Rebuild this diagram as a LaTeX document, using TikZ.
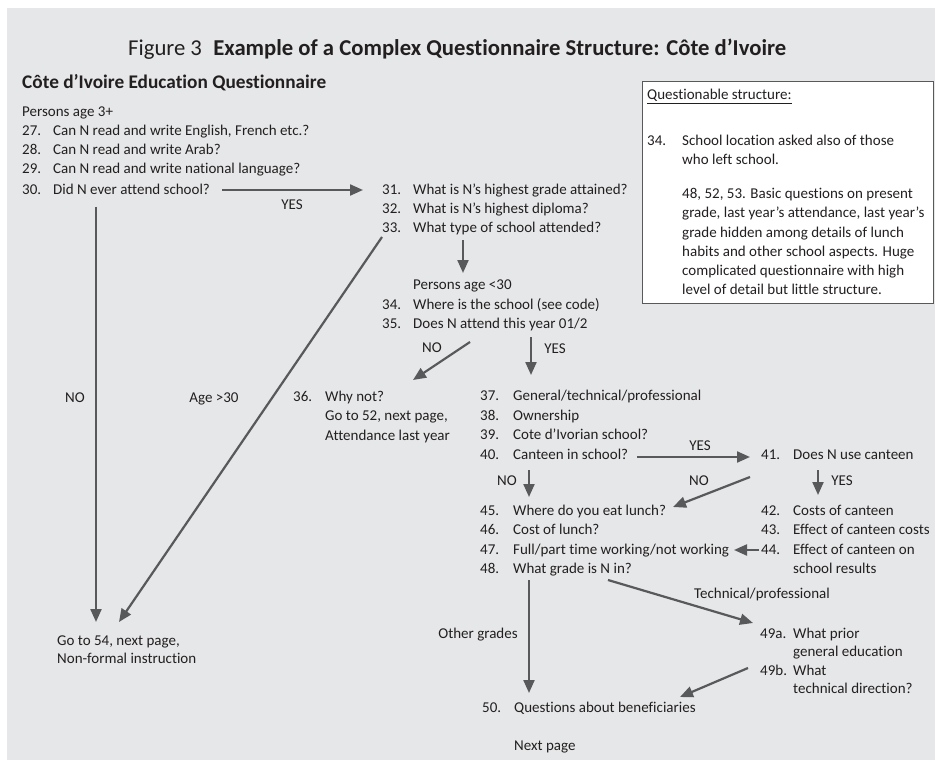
\documentclass[tikz,border=0pt]{standalone}
\usepackage{fontspec}
\setmainfont{Carlito}[Ligatures=NoCommon]
\usetikzlibrary{arrows.meta}
\definecolor{bgc}{HTML}{E6E7E8}
\definecolor{txtc}{HTML}{231F20}
\definecolor{linec}{HTML}{58595B}
\tikzset{
  t/.style={anchor=base west, inner sep=0pt, text=txtc, font=\fontsize{15}{17}\selectfont},
  lab/.style={anchor=base, inner sep=0pt, text=txtc, font=\fontsize{15}{17}\selectfont},
  conn/.style={draw=linec, line width=2.2pt, -{Triangle[length=13pt,width=11pt]}},
}
\begin{document}
\begin{tikzpicture}[x=1pt,y=-1pt]
\useasboundingbox (0,0) rectangle (935,765);
\fill[bgc] (7,8) rectangle (935,760);
% titles
\node[anchor=base west, inner sep=0pt, text=txtc, font=\fontsize{22.7}{25}\selectfont] (title) at (128,56) {Figure 3\enspace\textbf{Example of a Complex Questionnaire Structure: Côte d’Ivoire}};
\node[anchor=base west, inner sep=0pt, text=txtc, font=\fontsize{19.3}{22}\selectfont\bfseries] (sub) at (22,89) {Côte d’Ivoire Education Questionnaire};
% box
\draw[fill=white, draw=linec, line width=1pt] (642,82) rectangle (933,303);
\node[t] (bq) at (647,100) {\underline{Questionable structure:}};
\node[t] (b34n) at (647,146) {34.};
\node[t] (b34a) at (682,146) {School location asked also of those};
\node[t] (b34b) at (682,165) {who left school.};
\node[t] (b48a) at (682,199) {48, 52, 53. Basic questions on present};
\node[t] (b48b) at (682,218) {grade, last year’s attendance, last year’s};
\node[t] (b48c) at (682,237) {grade hidden among details of lunch};
\node[t] (b48d) at (682,256) {habits and other school aspects. Huge};
\node[t] (b48e) at (682,275) {complicated questionnaire with high};
\node[t] (b48f) at (682,294) {level of detail but little structure.};
% left column
\node[t] (p3) at (22,117) {Persons age 3+};
\node[t] (n27) at (22,136) {27.}; \node[t] (q27) at (53,136) {Can N read and write English, French etc.?};
\node[t] (n28) at (22,155) {28.}; \node[t] (q28) at (53,155) {Can N read and write Arab?};
\node[t] (n29) at (22,174) {29.}; \node[t] (q29) at (53,174) {Can N read and write national language?};
\node[t] (n30) at (22,194) {30.}; \node[t] (q30) at (53,194) {Did N ever attend school?};
\node[t] (n31) at (382,194) {31.}; \node[t] (q31) at (413,194) {What is N’s highest grade attained?};
\node[t] (n32) at (382,213) {32.}; \node[t] (q32) at (413,213) {What is N’s highest diploma?};
\node[t] (n33) at (382,233) {33.}; \node[t] (q33) at (413,233) {What type of school attended?};
\node[t] (p30) at (413,289) {Persons age <30};
\node[t] (n34) at (382,309) {34.}; \node[t] (q34) at (413,309) {Where is the school (see code)};
\node[t] (n35) at (382,328) {35.}; \node[t] (q35) at (413,328) {Does N attend this year 01/2};
\node[t] (n36) at (293,401) {36.}; \node[t] (q36a) at (325,401) {Why not?};
\node[t] (q36b) at (325,420) {Go to 52, next page,};
\node[t] (q36c) at (325,440) {Attendance last year};
\node[t] (n37) at (480,400) {37.}; \node[t] (q37) at (513,400) {General/technical/professional};
\node[t] (n38) at (480,420) {38.}; \node[t] (q38) at (513,420) {Ownership};
\node[t] (n39) at (480,439.5) {39.}; \node[t] (q39) at (513,439.5) {Cote d’Ivorian school?};
\node[t] (n40) at (480,459) {40.}; \node[t] (q40) at (513,459) {Canteen in school?};
\node[t] (n41) at (761,459) {41.}; \node[t] (q41) at (793,459) {Does N use canteen};
\node[t] (n45) at (480,515) {45.}; \node[t] (q45) at (513,515) {Where do you eat lunch?};
\node[t] (n46) at (480,534.5) {46.}; \node[t] (q46) at (513,534.5) {Cost of lunch?};
\node[t] (n47) at (480,554) {47.}; \node[t] (q47) at (513,554) {Full/part time working/not working};
\node[t] (n48) at (480,573) {48.}; \node[t] (q48) at (513,573) {What grade is N in?};
\node[t] (n42) at (761,515) {42.}; \node[t] (q42) at (793,515) {Costs of canteen};
\node[t] (n43) at (761,534.5) {43.}; \node[t] (q43) at (793,534.5) {Effect of canteen costs};
\node[t] (n44) at (761,554) {44.}; \node[t] (q44) at (793,554) {Effect of canteen on};
\node[t] (q44b) at (793,573) {school results};
\node[t] (n49a) at (760,638) {49a.}; \node[t] (q49a) at (793,638) {What prior};
\node[t] (q49a2) at (793,656.5) {general education};
\node[t] (n49b) at (760,675) {49b.}; \node[t] (q49b) at (793,675) {What};
\node[t] (q49b2) at (793,693.5) {technical direction?};
\node[t] (n50) at (482,712) {50.}; \node[t] (q50) at (514,712) {Questions about beneficiaries};
\node[t] (np) at (514,750) {Next page};
\node[t] (g54a) at (57,645) {Go to 54, next page,};
\node[t] (g54b) at (57,663) {Non-formal instruction};
% labels
\node[lab] (lNO1) at (75,402) {NO};
\node[lab] (lAge) at (214,402) {Age >30};
\node[lab] (lY30) at (292,210) {YES};
\node[lab] (lN35) at (432,352) {NO};
\node[lab] (lY35) at (555,353) {YES};
\node[lab] (lY40) at (700,450) {YES};
\node[lab] (lN40) at (507,485) {NO};
\node[lab] (lN41) at (699,485) {NO};
\node[lab] (lY41) at (842,485) {YES};
\node[lab] (lOther) at (478,638) {Other grades};
\node[lab] (lTech) at (762,598) {Technical/professional};
% connector end points
\coordinate (a30s) at (222,190); \coordinate (a30e) at (363,190);
\coordinate (a33s) at (463,240); \coordinate (a33e) at (463,273);
\coordinate (aN35s) at (470,342); \coordinate (aN35e) at (413,380);
\coordinate (aY35s) at (531,337); \coordinate (aY35e) at (531,375);
\coordinate (a40s) at (637,457); \coordinate (a40e) at (750,457);
\coordinate (aN40s) at (529,470); \coordinate (aN40e) at (529,497);
\coordinate (aN41s) at (750,477); \coordinate (aN41e) at (673,507);
\coordinate (aY41s) at (818,470); \coordinate (aY41e) at (818,495);
\coordinate (a44s) at (759,550); \coordinate (a44e) at (734,550);
\coordinate (a48s) at (529,580); \coordinate (a48e) at (529,693);
\coordinate (a48ts) at (608,580); \coordinate (a48te) at (753,623);
\coordinate (a49s) at (748,668); \coordinate (a49e) at (680,697);
\coordinate (aNOs) at (96,207); \coordinate (aNOe) at (96,622);
\coordinate (aAges) at (382,237); \coordinate (aAgee) at (119,622);
\draw[conn] (a30s) -- (a30e);
\draw[conn] (a33s) -- (a33e);
\draw[conn] (aN35s) -- (aN35e);
\draw[conn] (aY35s) -- (aY35e);
\draw[conn] (a40s) -- (a40e);
\draw[conn] (aN40s) -- (aN40e);
\draw[conn] (aN41s) -- (aN41e);
\draw[conn] (aY41s) -- (aY41e);
\draw[conn] (a44s) -- (a44e);
\draw[conn] (a48s) -- (a48e);
\draw[conn] (a48ts) -- (a48te);
\draw[conn] (a49s) -- (a49e);
\draw[conn] (aNOs) -- (aNOe);
\draw[conn] (aAges) -- (aAgee);
\end{tikzpicture}
\end{document}
